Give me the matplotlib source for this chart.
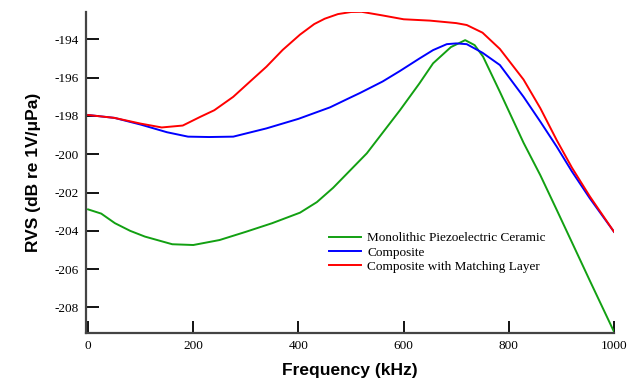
import matplotlib.pyplot as plt

plt.rcParams['axes.unicode_minus'] = False

# Composite with matching layer
freq_red = [0, 50, 100, 140, 180, 213, 240, 276, 308, 339, 370, 403, 430, 450,
            475, 500, 520, 560, 600, 650, 700, 720, 750, 783, 828, 860, 891,
            920, 954, 1000]
rvs_red = [-197.95, -198.1, -198.4, -198.6, -198.5, -198.05, -197.7, -197.0,
           -196.2, -195.43, -194.55, -193.75, -193.2, -192.92, -192.68, -192.57,
           -192.56, -192.75, -192.95, -193.02, -193.15, -193.25, -193.65, -194.5,
           -196.1, -197.6, -199.26, -200.7, -202.2, -204.05]

# Composite
freq_blue = [0, 50, 100, 150, 190, 230, 276, 339, 400, 460, 494, 517, 560, 593,
             630, 656, 682, 700, 720, 750, 783, 828, 860, 891, 920, 954, 1000]
rvs_blue = [-197.95, -198.1, -198.45, -198.85, -199.08, -199.1, -199.08, -198.65,
            -198.15, -197.55, -197.1, -196.8, -196.2, -195.65, -195.0, -194.56,
            -194.25, -194.21, -194.25, -194.7, -195.34, -197.0, -198.3, -199.6,
            -200.9, -202.3, -204.05]

# Monolithic piezoelectric ceramic
freq_green = [0, 25, 51, 80, 108, 160, 200, 250, 300, 350, 403, 435, 466, 530,
              593, 630, 656, 690, 717, 735, 751, 783, 828, 860, 891, 920, 954,
              1000]
rvs_green = [-202.88, -203.1, -203.6, -204.0, -204.3, -204.7, -204.74, -204.48,
             -204.05, -203.6, -203.05, -202.5, -201.75, -199.95, -197.7, -196.3,
             -195.25, -194.4, -194.04, -194.3, -194.9, -196.74, -199.4, -201.1,
             -202.9, -204.6, -206.6, -209.27]

labels = ['Monolithic Piezoelectric Ceramic', 'Composite',
          'Composite with Matching Layer']

fig = plt.figure(figsize=(6.31, 3.81), dpi=100)
ax = fig.add_axes([86 / 631, 48.3 / 381, 528 / 631, 320.7 / 381])

ax.plot(freq_green, rvs_green, color='#12a012', lw=1.4, label=labels[0])
ax.plot(freq_blue, rvs_blue, color='#0000ff', lw=1.4, label=labels[1])
ax.plot(freq_red, rvs_red, color='#ff0000', lw=1.4, label=labels[2])

ax.set_xlim(-4, 1000)
ax.set_ylim(-209.32, -192.57)
ax.set_xticks(range(0, 1001, 200))
ax.set_yticks(range(-208, -193, 2))

for s in ['top', 'right']:
    ax.spines[s].set_visible(False)
for s in ['left', 'bottom']:
    ax.spines[s].set_color('#444444')
    ax.spines[s].set_linewidth(1.6)

ax.tick_params(direction='in', length=9, width=1.3, color='black',
               labelsize=9.5, pad=5)
for lab in ax.get_xticklabels() + ax.get_yticklabels():
    lab.set_family('Liberation Serif')

ax.set_xlabel('Frequency (kHz)', fontsize=12.5, fontweight='bold',
              family='Liberation Sans', labelpad=8)
ax.set_ylabel('RVS (dB re 1V/\u03bcPa)', fontsize=12.5, fontweight='bold',
              family='Liberation Sans', labelpad=10)

ax.legend(loc='upper left', bbox_to_anchor=(0.45, 0.33), frameon=False,
          prop={'family': 'Liberation Serif', 'size': 9.5}, handlelength=2.4,
          handletextpad=0.5, labelspacing=0.15, borderaxespad=0)

fig.savefig('out.png', dpi=100)
